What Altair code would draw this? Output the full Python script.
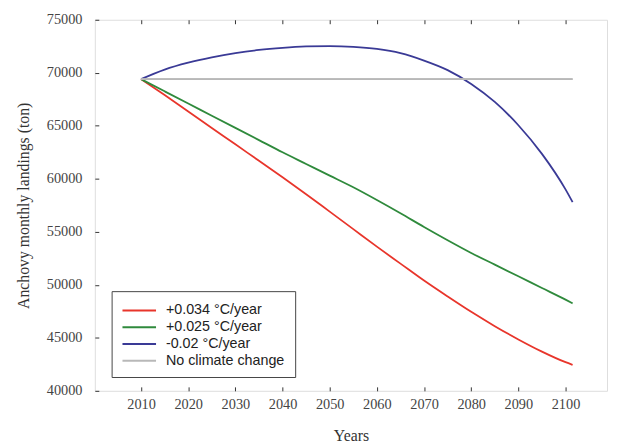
import altair as alt
import pandas as pd

years = [2010, 2015, 2020, 2025, 2030, 2035, 2040, 2045, 2050, 2055, 2060,
         2065, 2070, 2075, 2080, 2085, 2090, 2095, 2100, 2101.5]
red = [69400, 67900, 66350, 64800, 63250, 61700, 60150, 58550, 56900, 55250, 53600,
       52000, 50400, 48900, 47450, 46100, 44850, 43700, 42700, 42450]
green = [69400, 68250, 67100, 65950, 64800, 63650, 62500, 61400, 60300, 59200, 58000,
         56750, 55450, 54200, 53000, 51900, 50800, 49700, 48600, 48250]
blue = [69400, 70300, 70950, 71450, 71850, 72150, 72350, 72480, 72520, 72450, 72250,
        71850, 71150, 70250, 68950, 67250, 65050, 62350, 59000, 57800]
none_cc = [69400] * len(years)

series = ["+0.034 °C/year", "+0.025 °C/year", "-0.02 °C/year", "No climate change"]
colors = ["#e8352b", "#2f8a3c", "#3a3a96", "#b8b8b8"]
x_ticks = [2010, 2020, 2030, 2040, 2050, 2060, 2070, 2080, 2090, 2100]
y_ticks = [40000, 45000, 50000, 55000, 60000, 65000, 70000, 75000]

rows = []
for name, vals in zip(series, [red, green, blue, none_cc]):
    for yr, v in zip(years, vals):
        rows.append({"year": yr, "value": v, "series": name})
df = pd.DataFrame(rows)

serif = "Liberation Serif"
xscale = alt.Scale(domain=[2000.2, 2108.8], nice=False, zero=False)
yscale = alt.Scale(domain=[40000, 75000], nice=False, zero=False)

yaxis = alt.Axis(values=y_ticks, format="d", grid=False, domain=False,
                 offset=-4, tickSize=4, tickColor="#333", labelPadding=13,
                 labelFont=serif, labelFontSize=14.5, labelColor="#444",
                 title="Anchovy monthly landings (ton)", titleFont=serif,
                 titleFontSize=16, titleFontWeight="normal", titleColor="#333",
                 titlePadding=15)

lines = alt.Chart(df).mark_line(strokeWidth=1.8, interpolate="monotone").encode(
    x=alt.X("year:Q", scale=xscale,
            axis=alt.Axis(values=x_ticks, format="d", grid=False, domain=False,
                          offset=-4, tickSize=4, tickColor="#333", labelPadding=7,
                          labelFont=serif, labelFontSize=14.5, labelColor="#444",
                          title="Years", titleFont=serif, titleFontSize=16,
                          titleFontWeight="normal", titleColor="#333",
                          titlePadding=17)),
    y=alt.Y("value:Q", scale=yscale, axis=yaxis),
    color=alt.Color("series:N", sort=series,
                    scale=alt.Scale(domain=series, range=colors),
                    legend=alt.Legend(title=None, orient="none", legendX=17, legendY=275,
                                      strokeColor="#444", fillColor="white",
                                      padding=10, symbolType="M-1,0L3,0",
                                      symbolSize=289, symbolStrokeWidth=2,
                                      labelOffset=26, labelFont="Liberation Sans",
                                      labelFontSize=14.5, labelColor="#222",
                                      rowPadding=1)),
    detail="series:N",
)

top = alt.Chart(df[df["series"] == "No climate change"]).mark_line(
    strokeWidth=1.8, color="#b8b8b8").encode(
    x=alt.X("year:Q", scale=xscale,
            axis=alt.Axis(orient="top", values=x_ticks, labels=False, grid=False,
                          domain=False, offset=-4, tickSize=4, tickColor="#333",
                          title=None)),
    y=alt.Y("value:Q", scale=yscale, axis=yaxis),
)

chart = alt.layer(lines, top).resolve_axis(x="independent").properties(
    width=519, height=376,
    autosize=alt.AutoSizeParams(type="none"),
    padding={"left": 88, "top": 9, "right": 2, "bottom": 54},
).configure_view(stroke="#555", strokeWidth=1).configure(background="white")

chart.save("out.html", embed_options={"renderer": "svg", "actions": False})
